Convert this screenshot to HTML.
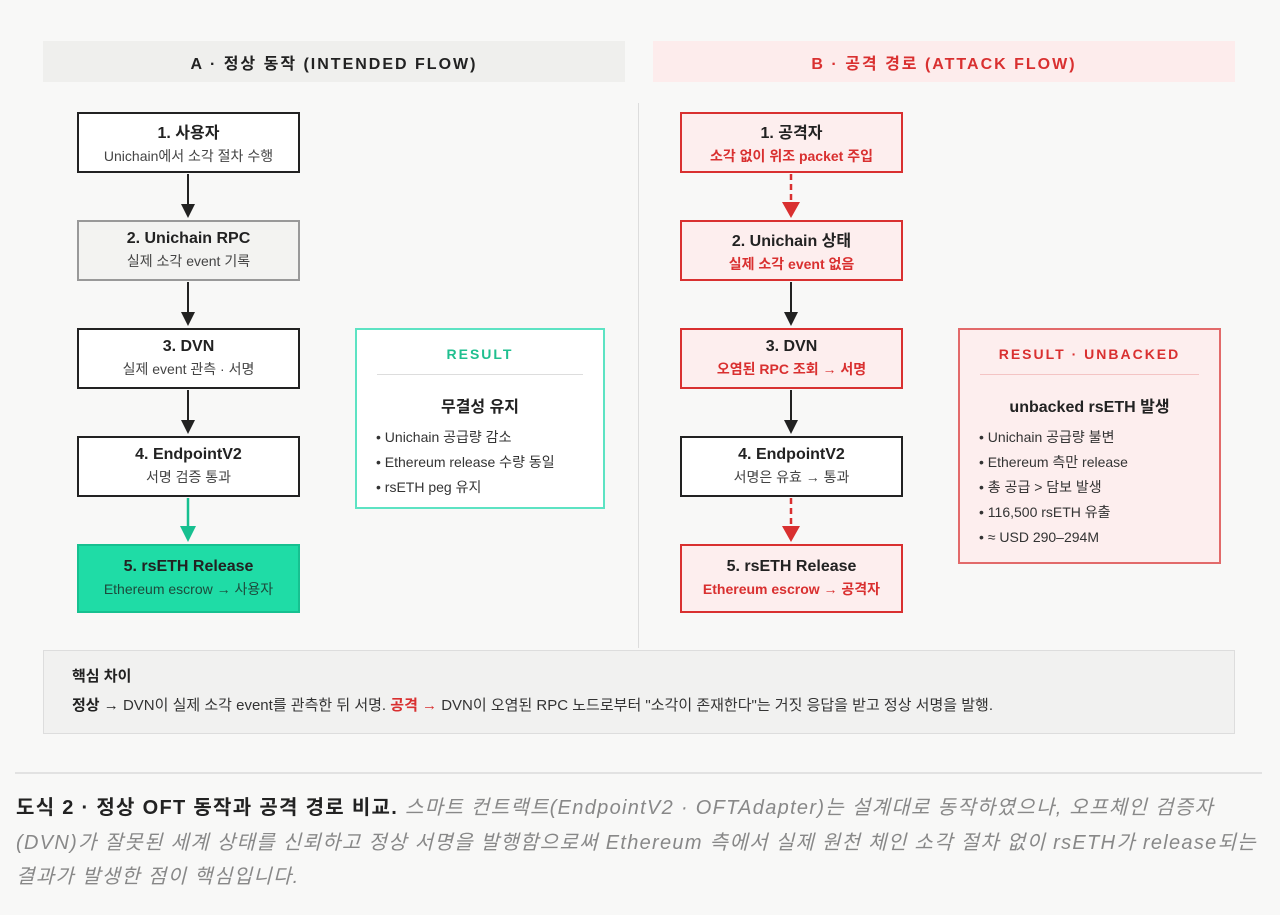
<!DOCTYPE html>
<html><head><meta charset="utf-8"><style>
body{margin:0;width:1280px;height:915px;background:#f8f8f7;font-family:"Liberation Sans","Noto Sans CJK KR",sans-serif;position:relative;overflow:hidden;color:#222}
.a{position:absolute;box-sizing:border-box}
.hd{height:41px;top:41px;width:582px;font-weight:bold;font-size:16px;letter-spacing:2px;display:flex;align-items:center;justify-content:center}
.n{width:223px;border:2px solid #222;background:#fff;text-align:center;display:flex;flex-direction:column;justify-content:center}
.n b{font-size:16px;color:#222;font-weight:bold}
.n span{font-size:14px;color:#444;margin-top:3px}
.r{border-color:#d93030;background:#fdeeee}
.r span{color:#d93030;font-weight:bold}
ul{list-style:none;margin:0;padding:0;font-size:14px;color:#333;line-height:25px}
</style></head><body>
<div class="a hd" style="left:43px;background:#efefed;color:#222">A · 정상 동작 (INTENDED FLOW)</div>
<div class="a hd" style="left:653px;background:#fdecec;color:#d93030">B · 공격 경로 (ATTACK FLOW)</div>
<div class="a" style="left:638px;top:103px;width:1px;height:545px;background:#ddd"></div>

<div class="a n" style="left:77px;top:112px;height:61px"><b>1. 사용자</b><span>Unichain에서 소각 절차 수행</span></div>
<div class="a n" style="left:77px;top:220px;height:61px;background:#f3f3f1;border-color:#999"><b>2. Unichain RPC</b><span>실제 소각 event 기록</span></div>
<div class="a n" style="left:77px;top:328px;height:61px"><b>3. DVN</b><span>실제 event 관측 · 서명</span></div>
<div class="a n" style="left:77px;top:436px;height:61px"><b>4. EndpointV2</b><span>서명 검증 통과</span></div>
<div class="a n" style="left:77px;top:544px;height:69px;background:#1fdca6;border-color:#17c090"><b>5. rsETH Release</b><span style="color:#1d4a3c">Ethereum escrow → 사용자</span></div>

<div class="a n r" style="left:680px;top:112px;height:61px"><b>1. 공격자</b><span>소각 없이 위조 packet 주입</span></div>
<div class="a n r" style="left:680px;top:220px;height:61px"><b>2. Unichain 상태</b><span>실제 소각 event 없음</span></div>
<div class="a n r" style="left:680px;top:328px;height:61px"><b>3. DVN</b><span>오염된 RPC 조회 → 서명</span></div>
<div class="a n" style="left:680px;top:436px;height:61px"><b>4. EndpointV2</b><span>서명은 유효 → 통과</span></div>
<div class="a n r" style="left:680px;top:544px;height:69px"><b>5. rsETH Release</b><span>Ethereum escrow → 공격자</span></div>

<svg class="a" style="left:0;top:0" width="1280" height="915">
<g stroke="#222" stroke-width="2" fill="#222">
<line x1="188" y1="174" x2="188" y2="206"/><polygon points="181,204 195,204 188,218" stroke="none"/>
<line x1="188" y1="282" x2="188" y2="314"/><polygon points="181,312 195,312 188,326" stroke="none"/>
<line x1="188" y1="390" x2="188" y2="422"/><polygon points="181,420 195,420 188,434" stroke="none"/>
<line x1="791" y1="282" x2="791" y2="314"/><polygon points="784,312 798,312 791,326" stroke="none"/>
<line x1="791" y1="390" x2="791" y2="422"/><polygon points="784,420 798,420 791,434" stroke="none"/>
</g>
<line x1="188" y1="498" x2="188" y2="528" stroke="#17c090" stroke-width="2.5"/><polygon points="180,526 196,526 188,542" fill="#17c090"/>
<g stroke="#d93030" stroke-width="2.5" stroke-dasharray="6,4"><line x1="791" y1="174" x2="791" y2="202"/><line x1="791" y1="498" x2="791" y2="526"/></g>
<polygon points="782,202 800,202 791,218" fill="#d93030"/><polygon points="782,526 800,526 791,542" fill="#d93030"/>
</svg>

<div class="a" style="left:355px;top:328px;width:250px;height:181px;border:2px solid #5de3c3;background:#fff">
<div style="text-align:center;color:#1fbf8f;font-weight:bold;font-size:14px;letter-spacing:2px;margin-top:16px">RESULT</div>
<div style="margin:12px 20px 0;height:1px;background:#ddd"></div>
<div style="text-align:center;font-weight:bold;font-size:16px;margin-top:18px">무결성 유지</div>
<ul style="margin:8px 0 0 19px"><li>• Unichain 공급량 감소</li><li>• Ethereum release 수량 동일</li><li>• rsETH peg 유지</li></ul>
</div>
<div class="a" style="left:958px;top:328px;width:263px;height:236px;border:2px solid #e26a6a;background:#fdeeee">
<div style="text-align:center;color:#d93030;font-weight:bold;font-size:14px;letter-spacing:2px;margin-top:16px">RESULT · UNBACKED</div>
<div style="margin:12px 20px 0;height:1px;background:#f4c4c4"></div>
<div style="text-align:center;font-weight:bold;font-size:16px;margin-top:18px">unbacked rsETH 발생</div>
<ul style="margin:8px 0 0 19px"><li>• Unichain 공급량 불변</li><li>• Ethereum 측만 release</li><li>• 총 공급 &gt; 담보 발생</li><li>• 116,500 rsETH 유출</li><li>• ≈ USD 290–294M</li></ul>
</div>

<div class="a" style="left:43px;top:650px;width:1192px;height:84px;background:#f1f1f0;border:1px solid #ddd;padding:14px 0 0 28px">
<div style="font-weight:bold;font-size:15px">핵심 차이</div>
<div style="font-size:15px;margin-top:8px;color:#333"><b style="color:#222">정상 →</b> DVN이 실제 소각 event를 관측한 뒤 서명. <b style="color:#d93030">공격 →</b> DVN이 오염된 RPC 노드로부터 "소각이 존재한다"는 거짓 응답을 받고 정상 서명을 발행.</div>
</div>
<div class="a" style="left:15px;top:772px;width:1247px;height:2px;background:#e2e2e2"></div>
<div class="a" style="left:16px;top:791px;width:1264px;font-size:20px;line-height:34.5px;color:#888;white-space:nowrap;letter-spacing:1.3px"><b style="color:#222">도식 2 · 정상 OFT 동작과 공격 경로 비교.</b> <i>스마트 컨트랙트(EndpointV2 · OFTAdapter)는 설계대로 동작하였으나, 오프체인 검증자</i><br><i>(DVN)가 잘못된 세계 상태를 신뢰하고 정상 서명을 발행함으로써 Ethereum 측에서 실제 원천 체인 소각 절차 없이 rsETH가 release되는</i><br><i>결과가 발생한 점이 핵심입니다.</i></div>
</body></html>
